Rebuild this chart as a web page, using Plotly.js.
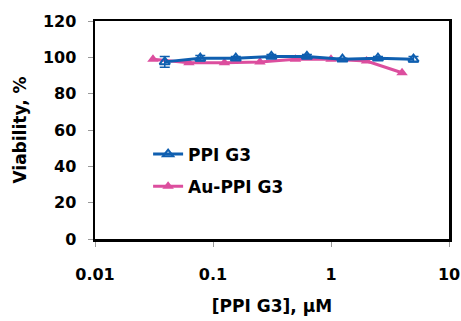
<!DOCTYPE html>
<html><head><meta charset="utf-8">
<script src="https://cdn.plot.ly/plotly-3.0.1.min.js"></script>
<style>html,body{margin:0;padding:0;background:#fff}#c{width:461px;height:321px}</style>
</head><body><div id="c"></div>
<script>
var ppiX = [0.039, 0.078, 0.156, 0.3125, 0.625, 1.25, 2.5, 5];
var ppiY = [97.5, 99.5, 99.5, 100.5, 100.5, 99, 99.5, 99];
var ppiErr = [3, 1.5, 1, 1, 1, 0.5, 1, 1.5];
var auX = [0.031, 0.0625, 0.125, 0.25, 0.5, 1, 2, 4];
var auY = [99, 97, 97, 97.5, 99, 99, 98, 91.5];
var xTicks = [0.01, 0.1, 1, 10];
var xTickText = ['0.01', '0.1', '1', '10'];
var yTicks = [0, 20, 40, 60, 80, 100, 120];
var yTickText = ['0', '20', '40', '60', '80', '100', '120'];

var blue = '#0f5fb0', pink = '#dc4e9e';
var fam = 'DejaVu Sans, Liberation Sans, sans-serif';
var tf = {family: fam, size: 16, color: '#000', weight: 700};
var bf = {family: fam, size: 17, color: '#000', weight: 700};
function b(s) { return '<b>' + s + '</b>'; }

var traces = [
  {x: auX, y: auY, name: b('Au-PPI G3'), type: 'scatter', mode: 'lines+markers',
   legendgroup: 'b', legendrank: 2,
   line: {color: pink, width: 3},
   marker: {symbol: 'triangle-up', size: 10, color: pink}},
  {x: ppiX, y: ppiY, name: b('PPI G3'), type: 'scatter', mode: 'lines+markers',
   legendgroup: 'a', legendrank: 1,
   line: {color: blue, width: 3},
   marker: {symbol: 'triangle-up-open', size: 9, color: blue, line: {width: 2, color: blue}},
   error_y: {type: 'data', array: ppiErr, color: blue, thickness: 1.5, width: 5}}
];

var layout = {
  width: 461, height: 321,
  margin: {l: 95, r: 12, t: 21, b: 82},
  paper_bgcolor: '#fff', plot_bgcolor: '#fff',
  font: bf,
  showlegend: true,
  legend: {x: 0.15, y: 0.47, xanchor: 'left', yanchor: 'top', bgcolor: 'rgba(0,0,0,0)',
           font: bf, traceorder: 'grouped', tracegroupgap: 7},
  xaxis: {type: 'log', range: [-2, 1], tickvals: xTicks, ticktext: xTickText.map(b),
          showgrid: false, zeroline: false, showline: true, linecolor: '#000', linewidth: 2.5, mirror: true,
          ticks: 'outside', ticklen: 5, tickcolor: '#999', tickwidth: 1,
          ticklabelstandoff: 14,
          tickfont: tf,
          title: {text: b('[PPI G3], \u00b5M'), standoff: 18, font: bf}},
  yaxis: {range: [0, 120], tickvals: yTicks, ticktext: yTickText.map(b),
          showgrid: false, zeroline: false, showline: true, linecolor: '#000', linewidth: 2.5, mirror: true,
          ticks: 'outside', ticklen: 5, tickcolor: '#999', tickwidth: 1,
          ticklabelstandoff: 8,
          tickfont: tf,
          title: {text: b('Viability, %'), standoff: 12, font: bf}}
};

Plotly.newPlot('c', traces, layout, {displayModeBar: false, staticPlot: true});
</script></body></html>
